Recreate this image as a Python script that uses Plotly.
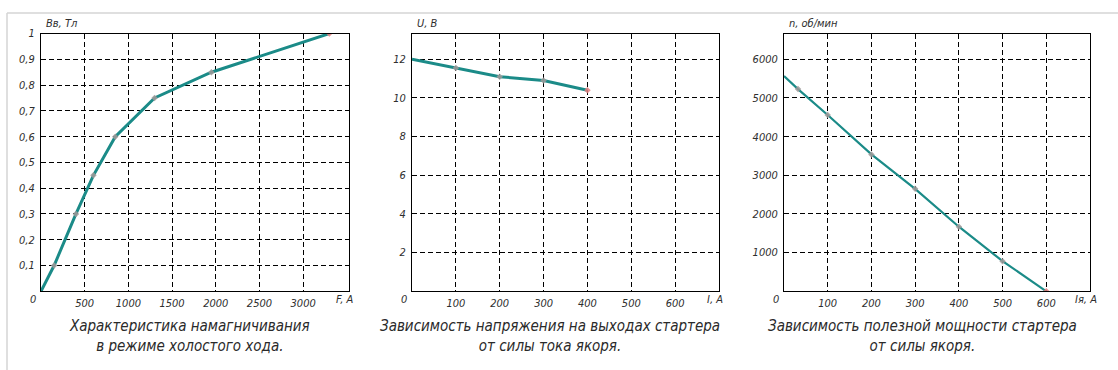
import plotly.graph_objects as go

W, H = 1118, 370

# ---------- data ----------
# Panel 1: magnetisation characteristic
p1_F = [0, 150, 400, 600, 850, 1300, 1950, 3300]
p1_B = [0, 0.1, 0.3, 0.45, 0.6, 0.75, 0.85, 1.0]
p1_yticks = [0.1, 0.2, 0.3, 0.4, 0.5, 0.6, 0.7, 0.8, 0.9, 1.0]
p1_ylabels = ["0,1", "0,2", "0,3", "0,4", "0,5", "0,6", "0,7", "0,8", "0,9", "1"]
p1_xticks = [500, 1000, 1500, 2000, 2500, 3000]
p1_xlabels = ["500", "1000", "1500", "2000", "2500", "3000"]

# Panel 2: voltage vs armature current
p2_I = [0, 100, 200, 300, 400]
p2_U = [12.0, 11.55, 11.1, 10.9, 10.4]
p2_yticks = [2, 4, 6, 8, 10, 12]
p2_ylabels = ["2", "4", "6", "8", "10", "12"]
p2_xticks = [100, 200, 300, 400, 500, 600]
p2_xlabels = ["100", "200", "300", "400", "500", "600"]

# Panel 3: speed vs armature current
p3_I = [0, 32, 100, 200, 300, 400, 500, 600]
p3_n = [5570, 5230, 4560, 3540, 2650, 1670, 780, 0]
p3_yticks = [1000, 2000, 3000, 4000, 5000, 6000]
p3_ylabels = ["1000", "2000", "3000", "4000", "5000", "6000"]
p3_xticks = [100, 200, 300, 400, 500, 600]
p3_xlabels = ["100", "200", "300", "400", "500", "600"]

titles = [
    "Характеристика намагничивания<br>в режиме холостого хода.",
    "Зависимость напряжения на выходах стартера<br>от силы тока якоря.",
    "Зависимость полезной мощности стартера<br>от силы якоря.",
]
ytitles = ["Вв, Тл", "U, В", "n, об/мин"]
xtitles = ["F, A", "I, A", "Iя, A"]

# ---------- layout helpers ----------
def px(x):
    return x / W

def py(y):
    return 1 - y / H

def it(s):
    return "<i>" + s.replace("<br>", "</i><br><i>") + "</i>"

FONT = "DejaVu Sans Condensed, Liberation Sans Narrow, sans-serif"
TEAL = "#1b8b88"
GRAY_M = "#a09a9a"
RED_M = "#e27c7c"

panels = [
    dict(x0=41, x1=349, xr=[0, 3525], yr=[0, 1.0], x=p1_F, y=p1_B, lw=3,
         xt=p1_xticks, xl=p1_xlabels, yt=p1_yticks, yl=p1_ylabels, mk_start=1),
    dict(x0=412, x1=719, xr=[0, 700], yr=[0, 13.33], x=p2_I, y=p2_U, lw=3,
         xt=p2_xticks, xl=p2_xlabels, yt=p2_yticks, yl=p2_ylabels, mk_start=1),
    dict(x0=784, x1=1090, xr=[0, 700], yr=[0, 6667], x=p3_I, y=p3_n, lw=2.2,
         xt=p3_xticks, xl=p3_xlabels, yt=p3_yticks, yl=p3_ylabels, mk_start=1),
]
Y0, Y1 = 28, 290
caption_x = [189, 550, 922]

fig = go.Figure()
layout = dict(
    width=W, height=H, margin=dict(l=0, r=0, t=0, b=0),
    paper_bgcolor="white", plot_bgcolor="white", showlegend=False,
    annotations=[], shapes=[],
)
tickfont = dict(family=FONT, size=11, color="#2e2e2e")

for i, p in enumerate(panels):
    k = "" if i == 0 else str(i + 1)
    xa, ya = "x" + k, "y" + k
    fig.add_trace(go.Scatter(x=p["x"], y=p["y"], mode="lines",
                             line=dict(color=TEAL, width=p["lw"]),
                             xaxis=xa, yaxis=ya, hoverinfo="skip"))
    mx = p["x"][p["mk_start"]:]
    my = p["y"][p["mk_start"]:]
    cols = [GRAY_M] * (len(mx) - 1) + [RED_M]
    fig.add_trace(go.Scatter(x=mx, y=my, mode="markers",
                             marker=dict(symbol="diamond", size=5, color=cols, opacity=0.85),
                             xaxis=xa, yaxis=ya, hoverinfo="skip"))
    common = dict(showline=True, linecolor="black", linewidth=1, mirror=True,
                  showgrid=True, gridcolor="black", gridwidth=1, griddash="5px,3px",
                  zeroline=False, ticks="", tickfont=tickfont, fixedrange=True)
    layout["xaxis" + k] = dict(common, domain=[px(p["x0"]), px(p["x1"])], range=p["xr"],
                               tickmode="array", tickvals=p["xt"],
                               ticktext=[it(s) for s in p["xl"]],
                               anchor=ya, ticklabelstandoff=2)
    layout["yaxis" + k] = dict(common, domain=[py(Y1), py(Y0)], range=p["yr"],
                               tickmode="array", tickvals=p["yt"],
                               ticktext=[it(s) for s in p["yl"]],
                               anchor=xa, ticklabelstandoff=3)
    # origin "0"
    layout["annotations"].append(dict(
        x=px(p["x0"] - 8), y=py(298), xref="paper", yref="paper", text=it("0"),
        showarrow=False, font=tickfont, xanchor="center", yanchor="middle"))
    # axis titles
    layout["annotations"].append(dict(
        x=px(p["x0"] + 3), y=py(18), xref="paper", yref="paper", text=it(ytitles[i]),
        showarrow=False, font=tickfont, xanchor="left", yanchor="middle"))
    layout["annotations"].append(dict(
        x=px(p["x1"] - 4), y=py(298), xref="paper", yref="paper", text=it(xtitles[i]),
        showarrow=False, font=tickfont, xanchor="center", yanchor="middle"))
    # captions
    layout["annotations"].append(dict(
        x=px(caption_x[i]), y=py(335), xref="paper", yref="paper", text=it(titles[i]),
        showarrow=False, align="center", xanchor="center", yanchor="middle",
        font=dict(family=FONT, size=15, color="#2a2a2a")))

# outer light border (top and left)
layout["shapes"] += [
    dict(type="line", xref="paper", yref="paper", x0=px(7), x1=1, y0=py(7), y1=py(7),
         line=dict(color="#d4d4d4", width=1.5)),
    dict(type="line", xref="paper", yref="paper", x0=px(7), x1=px(7), y0=0, y1=py(7),
         line=dict(color="#d4d4d4", width=1.5)),
]

fig.update_layout(**layout)
fig.write_html("out.html")
